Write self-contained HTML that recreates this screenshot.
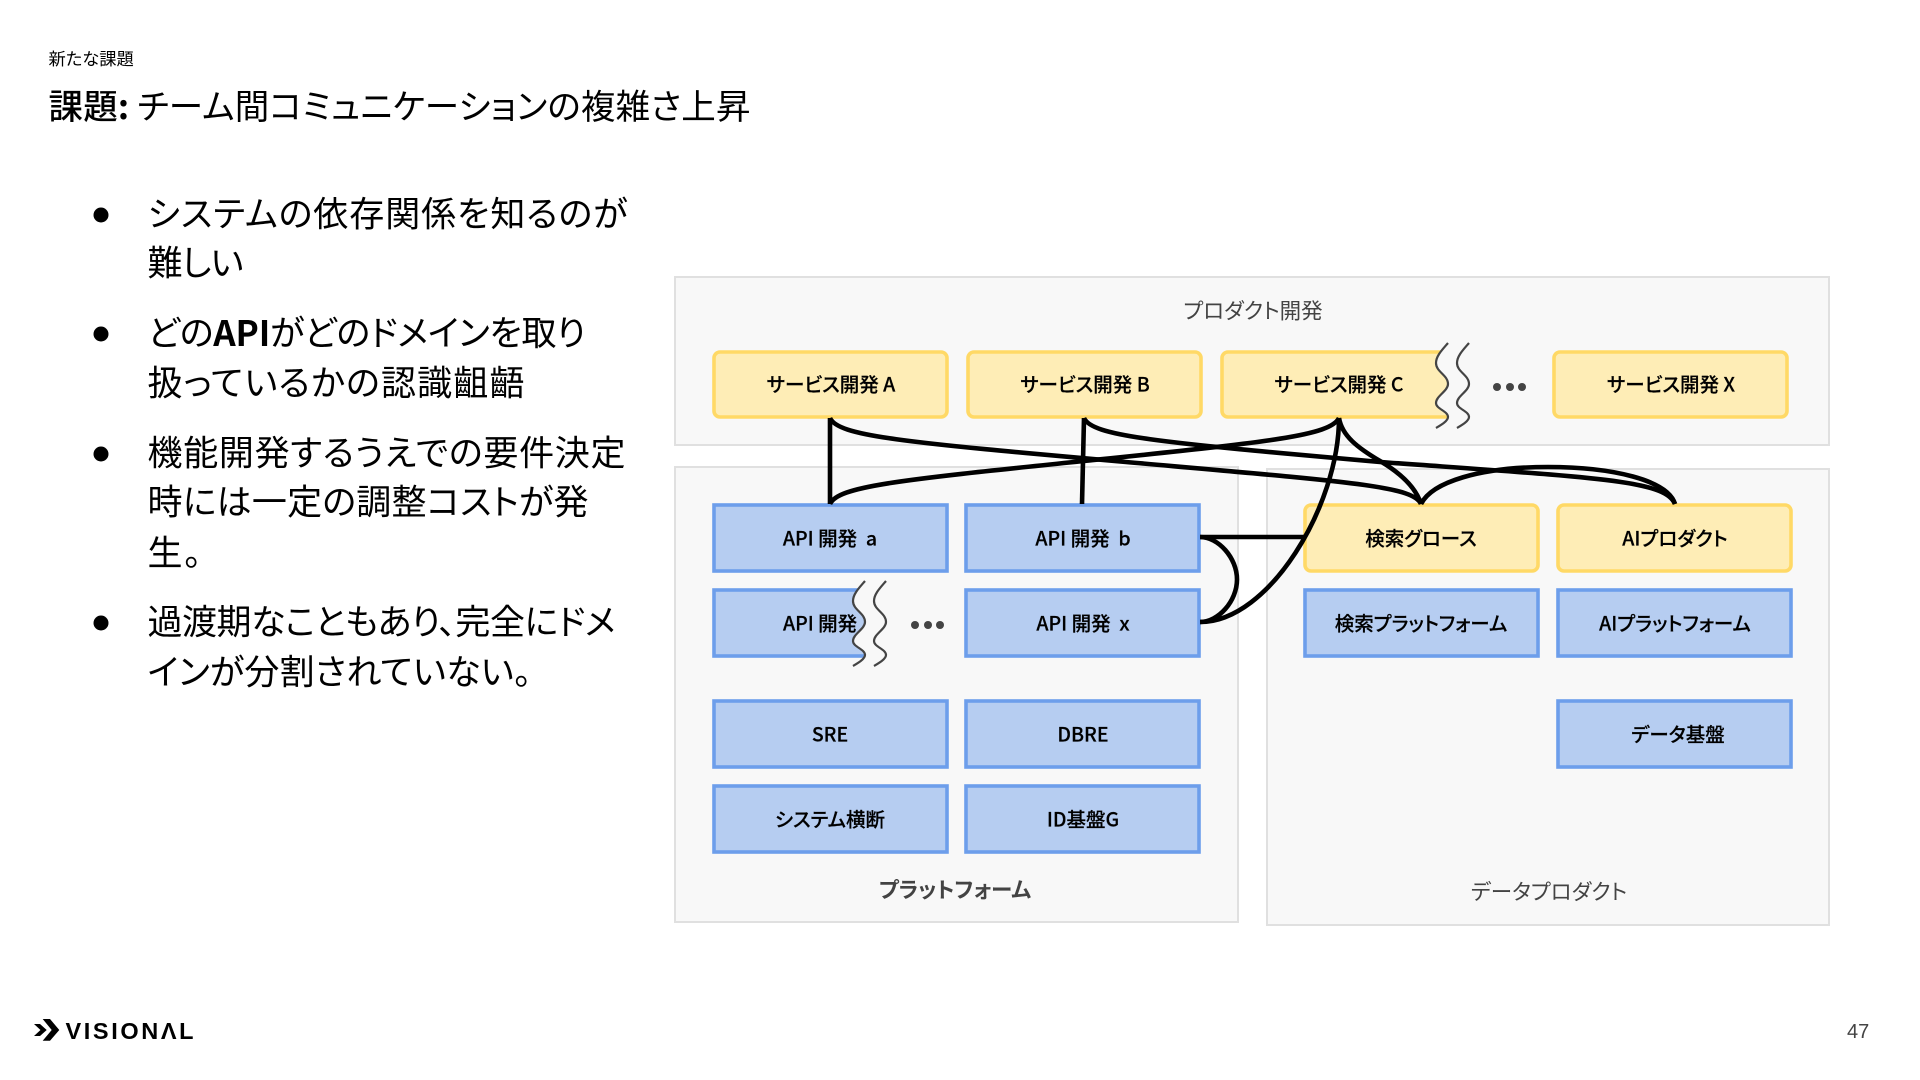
<!DOCTYPE html>
<html lang="ja"><head><meta charset="utf-8"><title>課題</title>
<style>
html,body{margin:0;padding:0;background:#fff}
svg{display:block}
text{font-family:"Noto Sans CJK JP","Liberation Sans",sans-serif;white-space:pre;font-feature-settings:"palt"}
.l{font-size:19.5px;font-weight:500;text-anchor:middle;dominant-baseline:central;fill:#000;stroke:#000;stroke-width:.2}
.p{fill:#f8f8f8;stroke:#e0e0e0;stroke-width:2}
.y{fill:#feedb6;stroke:#ffd966;stroke-width:3.6}
.b{fill:#b6cdf1;stroke:#6d9eeb;stroke-width:3.6}
.c{fill:none;stroke:#000;stroke-width:4.6}
.w{fill:none;stroke:#444;stroke-width:2.2}
.t{font-size:35px;fill:#000;dominant-baseline:central}
.g{font-size:21.5px;fill:#434343;text-anchor:middle;dominant-baseline:central}
</style></head><body>
<svg width="1920" height="1080" viewBox="0 0 1920 1080" xmlns="http://www.w3.org/2000/svg">
<rect width="1920" height="1080" fill="#fff"/>

<text x="48.5" y="57.5" font-size="17.3" dominant-baseline="central" fill="#000">新たな課題</text>
<text x="48.5" y="104" font-size="34.5" dominant-baseline="central" fill="#000" textLength="702" lengthAdjust="spacing"><tspan font-weight="500">課題</tspan><tspan font-weight="700">:</tspan> チーム間コミュニケーションの複雑さ上昇</text>

<g fill="#000"><circle cx="101" cy="215" r="7.5"/><circle cx="101" cy="334" r="7.5"/><circle cx="101" cy="454" r="7.5"/><circle cx="101" cy="623" r="7.5"/></g>
<text class="t" x="147.5" y="212" textLength="480">システムの依存関係を知るのが</text>
<text class="t" x="147.5" y="261" textLength="96">難しい</text>
<text class="t" x="147.5" y="331" textLength="438">どの<tspan font-weight="700">API</tspan>がどのドメインを取り</text>
<text class="t" x="147.5" y="381" textLength="377">扱っているかの認識齟齬</text>
<text class="t" x="147.5" y="451" textLength="478">機能開発するうえでの要件決定</text>
<text class="t" x="147.5" y="500" textLength="441">時には一定の調整コストが発</text>
<text class="t" x="147.5" y="551" textLength="54">生。</text>
<text class="t" x="147.5" y="620" textLength="468">過渡期なこともあり、完全にドメ</text>
<text class="t" x="147.5" y="670" textLength="384">インが分割されていない。</text>

<rect class="p" x="675" y="277" width="1154" height="168"/>
<rect class="p" x="675" y="467" width="563" height="455"/>
<rect class="p" x="1267" y="469" width="562" height="456"/>

<text class="g" x="1253" y="310">プロダクト開発</text>
<text class="g" x="955" y="889" font-weight="700">プラットフォーム</text>
<text class="g" x="1549" y="891">データプロダクト</text>

<rect class="y" x="714" y="352" width="233" height="65" rx="6"/>
<rect class="y" x="968" y="352" width="233" height="65" rx="6"/>
<rect class="y" x="1222" y="352" width="240" height="65" rx="6"/>
<rect class="y" x="1554" y="352" width="233" height="65" rx="6"/>
<rect class="y" x="1305" y="505" width="233" height="66" rx="6"/>
<rect class="y" x="1558" y="505" width="233" height="66" rx="6"/>

<rect class="b" x="714" y="505" width="233" height="66"/>
<rect class="b" x="966" y="505" width="233" height="66"/>
<rect class="b" x="714" y="590" width="180" height="66"/>
<rect class="b" x="966" y="590" width="233" height="66"/>
<rect class="b" x="714" y="701" width="233" height="66"/>
<rect class="b" x="966" y="701" width="233" height="66"/>
<rect class="b" x="714" y="786" width="233" height="66"/>
<rect class="b" x="966" y="786" width="233" height="66"/>
<rect class="b" x="1305" y="590" width="233" height="66"/>
<rect class="b" x="1558" y="590" width="233" height="66"/>
<rect class="b" x="1558" y="701" width="233" height="66"/>

<!-- break covers -->
<path fill="#f8f8f8" d="M1448 343C1442 350 1436 356 1436 363C1436 372 1448 375 1448 384C1448 391 1436 396 1436 403C1436 409 1448 411 1448 417C1448 421 1441 425 1436 428H1472V343Z"/>
<path fill="#f8f8f8" transform="translate(-583 238)" d="M1448 343C1442 350 1436 356 1436 363C1436 372 1448 375 1448 384C1448 391 1436 396 1436 403C1436 409 1448 411 1448 417C1448 421 1441 425 1436 428H1490V343Z"/>

<g transform="translate(0 -1.2)">
<text class="l" x="831" y="384">サービス開発 A</text>
<text class="l" x="1085" y="384">サービス開発 B</text>
<text class="l" x="1339" y="384">サービス開発 C</text>
<text class="l" x="1671" y="384">サービス開発 X</text>
<text class="l" x="830" y="538">API 開発  a</text>
<text class="l" x="1083" y="538">API 開発  b</text>
<text class="l" x="783" y="623" style="text-anchor:start">API 開発</text>
<text class="l" x="1083" y="623">API 開発  x</text>
<text class="l" x="830" y="734">SRE</text>
<text class="l" x="1083" y="734">DBRE</text>
<text class="l" x="830" y="819">システム横断</text>
<text class="l" x="1083" y="819">ID基盤G</text>
<text class="l" x="1421" y="538">検索グロース</text>
<text class="l" x="1675" y="538">AIプロダクト</text>
<text class="l" x="1421" y="623">検索プラットフォーム</text>
<text class="l" x="1675" y="623">AIプラットフォーム</text>
<text class="l" x="1678" y="734">データ基盤</text>
</g>

<!-- wavy breaks -->
<g class="w">
<path d="M1448 343C1442 350 1436 356 1436 363C1436 372 1448 375 1448 384C1448 391 1436 396 1436 403C1436 409 1448 411 1448 417C1448 421 1441 425 1436 428"/>
<path d="M1469 343C1463 350 1457 356 1457 363C1457 372 1469 375 1469 384C1469 391 1457 396 1457 403C1457 409 1469 411 1469 417C1469 421 1462 425 1457 428"/>
<path transform="translate(-583 238)" d="M1448 343C1442 350 1436 356 1436 363C1436 372 1448 375 1448 384C1448 391 1436 396 1436 403C1436 409 1448 411 1448 417C1448 421 1441 425 1436 428"/>
<path transform="translate(-583 238)" d="M1469 343C1463 350 1457 356 1457 363C1457 372 1469 375 1469 384C1469 391 1457 396 1457 403C1457 409 1469 411 1469 417C1469 421 1462 425 1457 428"/>
</g>
<g fill="#444"><circle cx="1497" cy="387" r="4"/><circle cx="1510" cy="387" r="4"/><circle cx="1522" cy="387" r="4"/>
<circle cx="915" cy="625" r="4"/><circle cx="928" cy="625" r="4"/><circle cx="940" cy="625" r="4"/></g>

<!-- connectors -->
<g class="c">
<path d="M830 418V504"/>
<path d="M830 418C838 436 900 442 1126 462C1352 482 1413 486 1421 504"/>
<path d="M830 504C838 486 900 480 1084 461C1268 442 1330 436 1339 418"/>
<path d="M1084 418L1082 504"/>
<path d="M1084 418C1092 436 1154 442 1380 462C1600 478 1665 480 1675 504"/>
<path d="M1339 418C1342 436 1358 448 1380 461C1402 474 1416 488 1421 504"/>
<path d="M1421 504C1432 482 1480 467 1548 467C1612 467 1668 480 1675 504"/>
<path d="M1200 537H1304"/>
<path d="M1200 537C1218.5 537 1237 558 1237 579.5C1237 601 1218.5 622 1200 622"/>
<path d="M1200 622C1269.5 622 1339 505 1339 418"/>
</g>

<!-- logo -->
<path fill="#000" d="M34 1024H40L46.7 1030L40 1036H34L40.5 1030Z"/>
<path fill="#000" d="M42.7 1019H50L59.3 1030L50 1040.7H42.7L51.7 1030Z"/>
<text x="65.5" y="1039" font-size="23.5" font-weight="700" textLength="128" lengthAdjust="spacing" style="font-family:'Liberation Sans',sans-serif;font-feature-settings:normal" fill="#000">VISIONΛL</text>

<text x="1847" y="1038" font-size="20" style="font-family:'Liberation Sans',sans-serif;font-feature-settings:normal" fill="#444">47</text>
</svg>
</body></html>
